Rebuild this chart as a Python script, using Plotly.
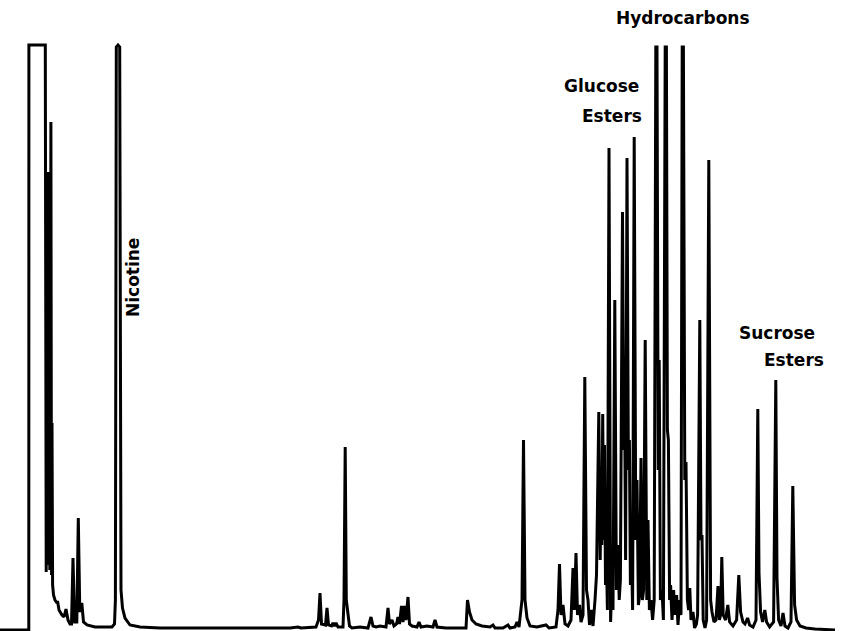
import plotly.graph_objects as go

# Gas chromatogram of a tobacco leaf-surface extract.
# Retention time in minutes, detector response in arbitrary units (117 = full scale).

# Solvent front, early volatiles and nicotine
rt_early = [0.000, 1.375, 1.440, 1.445, 2.265, 2.310, 2.330, 2.350, 2.370, 2.390,
            2.420, 2.445, 2.465, 2.490, 2.515, 2.545, 2.575, 2.600, 2.630, 2.675,
            2.750, 2.850, 2.875, 2.950, 3.100, 3.200, 3.300, 3.400, 3.500, 3.575,
            3.650, 3.730, 3.840, 3.915, 3.990, 4.090, 4.175, 4.350, 4.750, 5.600,
            5.725, 5.770, 5.815, 5.900, 5.985, 6.050, 6.125, 6.250, 6.500, 7.000,
            8.000]
sig_early = [0.0, 0.0, 0.0, 117.0, 117.0, 11.6, 80.0, 14.0, 88.0, 13.0,
             91.6, 13.0, 62.0, 12.0, 12.5, 101.6, 11.0, 41.4, 9.0, 7.0,
             6.0, 5.4, 5.8, 4.0, 3.0, 2.6, 4.2, 2.0, 1.2, 1.2,
             14.4, 1.6, 1.6, 22.4, 3.6, 5.4, 1.6, 1.0, 0.6, 0.6,
             1.2, 6.0, 116.6, 117.0, 116.6, 8.0, 4.4, 2.4, 1.0, 0.6,
             0.4]

# Middle of the run: minor volatiles
rt_mid = [10.0, 14.5, 14.9, 15.05, 15.8, 15.925, 16.0, 16.075, 16.275, 16.35,
          16.425, 16.575, 16.65, 16.725, 16.8, 16.9, 17.15, 17.2, 17.26, 17.315,
          17.4, 17.475, 17.6, 18.0, 18.4, 18.55, 18.65, 18.8, 19.0, 19.3,
          19.4, 19.475, 19.6, 19.7, 19.825, 19.9, 19.975, 20.075, 20.15, 20.225,
          20.3, 20.4, 20.475, 20.6, 20.85, 20.95, 21.05, 21.35, 21.65, 21.75,
          21.85, 22.3, 23.3, 23.375, 23.475, 23.6, 23.8, 24.1, 24.5, 24.65,
          24.75, 25.15, 25.4, 25.5, 25.75, 25.85, 25.95, 26.1, 26.175, 26.25,
          26.35, 26.5, 26.85, 27.3, 27.45, 27.8]
sig_mid = [0.4, 0.4, 0.6, 0.4, 0.6, 2.0, 7.4, 1.2, 1.0, 4.4,
           1.0, 0.8, 1.4, 0.8, 1.4, 0.6, 0.6, 6.0, 36.6, 6.0,
           3.2, 0.8, 0.4, 0.6, 0.4, 2.6, 0.8, 0.6, 0.8, 0.6,
           4.4, 1.2, 2.0, 0.8, 1.2, 2.6, 1.2, 4.8, 1.6, 4.8,
           2.0, 6.6, 1.2, 0.8, 0.6, 1.6, 0.6, 0.8, 0.6, 2.0,
           0.6, 0.4, 0.4, 6.0, 3.6, 2.0, 1.2, 0.8, 0.6, 1.0,
           0.4, 0.4, 1.0, 0.4, 0.6, 1.6, 0.6, 6.0, 38.0, 6.0,
           2.4, 0.8, 0.6, 1.0, 0.4, 0.6]

# Glucose esters and hydrocarbons
rt_late = [27.9, 27.975, 28.05, 28.15, 28.25, 28.4, 28.55, 28.65, 28.715, 28.8,
           28.875, 28.975, 29.05, 29.15, 29.24, 29.325, 29.4, 29.475, 29.575, 29.65,
           29.75, 29.825, 29.94, 30.01, 30.06, 30.09, 30.135, 30.185, 30.225, 30.275,
           30.325, 30.37, 30.45, 30.53, 30.6, 30.65, 30.74, 30.82, 30.9, 30.96,
           31.02, 31.125, 31.19, 31.23, 31.28, 31.35, 31.42, 31.47, 31.52, 31.57,
           31.63, 31.71, 31.79, 31.85, 31.92, 31.98, 32.05, 32.12, 32.18, 32.26,
           32.34, 32.4, 32.47, 32.55, 32.63, 32.71, 32.79, 32.85, 32.91, 32.96,
           33.02, 33.1, 33.17, 33.26, 33.32, 33.37, 33.42, 33.48, 33.53, 33.6,
           33.68, 33.75, 33.83, 33.9, 33.98, 34.05, 34.11, 34.17, 34.24, 34.3,
           34.37, 34.43, 34.49, 34.55, 34.65, 34.73, 34.82, 34.88, 34.99, 35.05,
           35.1, 35.16, 35.25, 35.33, 35.44, 35.53, 35.6, 35.7, 35.8, 35.9,
           35.97, 36.03, 36.09, 36.16, 36.28, 36.39, 36.48, 36.65]
sig_late = [4.0, 13.2, 3.0, 5.0, 1.2, 0.8, 2.0, 12.4, 4.0, 15.4,
            3.0, 5.0, 1.6, 3.0, 50.6, 8.0, 6.0, 1.0, 4.0, 0.8,
            6.0, 11.0, 43.6, 14.0, 30.0, 17.0, 43.2, 18.0, 37.0, 9.0,
            14.0, 4.0, 96.4, 1.6, 11.0, 4.0, 66.0, 8.0, 17.0, 6.0,
            10.0, 83.6, 36.0, 46.0, 14.0, 94.4, 32.0, 38.0, 9.0, 17.0,
            4.0, 98.6, 18.0, 30.0, 5.0, 7.0, 34.4, 6.0, 8.0, 58.0,
            6.0, 22.0, 4.0, 6.0, 2.0, 6.0, 116.6, 116.6, 32.0, 54.0,
            6.0, 8.0, 2.0, 116.6, 116.6, 40.0, 38.0, 6.0, 9.0, 2.0,
            8.0, 3.0, 7.0, 1.0, 6.0, 3.0, 116.6, 116.6, 30.0, 33.6,
            6.0, 4.0, 8.4, 2.0, 3.6, 0.4, 1.2, 3.0, 62.0, 18.0,
            19.0, 2.0, 0.4, 2.0, 94.0, 6.0, 3.6, 1.6, 2.0, 8.8,
            2.0, 3.0, 14.6, 3.0, 2.0, 5.0, 1.6, 0.8]

# Sucrose esters and end of run
rt_tail = [36.83, 36.94, 37.03, 37.15, 37.25, 37.38, 37.48, 37.65, 37.8, 37.89,
           37.95, 38.03, 38.13, 38.24, 38.33, 38.48, 38.68, 38.79, 38.85, 38.93,
           39.05, 39.15, 39.25, 39.4, 39.55, 39.64, 39.73, 39.83, 40.0, 40.3,
           40.75, 41.75]
sig_tail = [2.0, 11.0, 3.6, 1.6, 1.2, 2.4, 1.0, 0.6, 2.0, 44.2,
            11.4, 3.6, 1.6, 4.0, 1.6, 0.6, 1.6, 50.0, 10.4, 2.0,
            0.8, 3.4, 0.8, 0.4, 1.6, 28.8, 5.0, 2.0, 0.8, 0.4,
            0.2, 0.0]

rt = rt_early + rt_mid + rt_late + rt_tail
signal = sig_early + sig_mid + sig_late + sig_tail

# Peak-group labels: (text, x, y, xanchor, angle)
labels = [
    ("Nicotine", 6.65, 70.4, "center", -90),
    ("Hydrocarbons", 34.15, 122.4, "center", 0),
    ("Glucose", 28.15, 108.8, "left", 0),
    ("Esters", 32.15, 102.8, "right", 0),
    ("Sucrose", 36.9, 59.4, "left", 0),
    ("Esters", 38.15, 54.0, "left", 0),
]

fig = go.Figure()
fig.add_trace(go.Scatter(
    x=rt, y=signal, mode="lines",
    line=dict(color="black", width=3),
    hoverinfo="skip", showlegend=False,
))

for text, x, y, xa, ang in labels:
    fig.add_annotation(
        x=x, y=y, text=text, showarrow=False, xanchor=xa, yanchor="middle",
        textangle=ang, borderpad=0,
        font=dict(family="DejaVu Sans", size=17, color="black", weight="bold"),
    )

fig.update_layout(
    width=858, height=631,
    margin=dict(l=0, r=0, t=0, b=0),
    paper_bgcolor="white", plot_bgcolor="white",
    xaxis=dict(range=[0, 42.9], visible=False, fixedrange=True),
    yaxis=dict(range=[-0.2, 126.0], visible=False, fixedrange=True),
)

fig.write_html("out.html")
